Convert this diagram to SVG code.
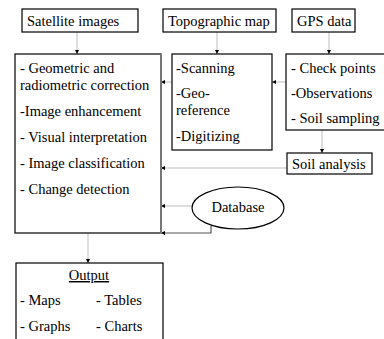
<svg xmlns="http://www.w3.org/2000/svg" width="384" height="339" viewBox="0 0 384 339">
<defs>
<marker id="ah" markerWidth="4" markerHeight="4" refX="4" refY="2" orient="auto" markerUnits="userSpaceOnUse">
<path d="M0,0 L4,2 L0,4 Z" fill="#000"/>
</marker>
<style>
.box{fill:#fff;stroke:#000;stroke-width:1.2}
.c{fill:none;stroke:#bdbdbd;stroke-width:1;marker-end:url(#ah)}
.cd{fill:none;stroke:#555;stroke-width:1.2;marker-end:url(#ah)}
</style>
</defs>
<rect width="384" height="339" fill="#fff"/>
<g id="connectors">
<path class="c" d="M77,32 V54"/>
<path class="c" d="M217,32 V54"/>
<path class="c" d="M329,32 V54"/>
<path class="c" d="M286,82 H272"/>
<path class="c" d="M172,82 H161"/>
<path class="c" d="M322,130 V153"/>
<path class="c" d="M287,168 H161"/>
<path class="c" d="M192,206 H161"/>
<path class="cd" d="M211,226 V233 H161"/>
<path class="c" d="M88,233 V263"/>
</g>
<g font-family="'Liberation Serif'" font-size="14.5" fill="#000">
<g id="satellite">
<rect class="box" x="22" y="9" width="116" height="23"/>
<text x="27" y="26">Satellite images</text>
</g>
<g id="topographic">
<rect class="box" x="163" y="9" width="113" height="23"/>
<text x="168" y="26">Topographic map</text>
</g>
<g id="gps">
<rect class="box" x="292" y="9" width="63" height="23"/>
<text x="297" y="26">GPS data</text>
</g>
<g id="processing">
<rect class="box" x="15" y="54" width="146" height="179"/>
<line x1="161" y1="54" x2="161" y2="234" stroke="#777" stroke-width="2"/>
<text x="20" y="73">- Geometric and</text>
<text x="20" y="90">radiometric correction</text>
<text x="20" y="116">-Image enhancement</text>
<text x="20" y="142">- Visual interpretation</text>
<text x="20" y="168">- Image classification</text>
<text x="20" y="194">- Change detection</text>
</g>
<g id="topo-steps">
<rect class="box" x="172" y="54" width="100" height="96"/>
<text x="176" y="73">-Scanning</text>
<text x="176" y="98">-Geo-</text>
<text x="176" y="115">reference</text>
<text x="176" y="141">-Digitizing</text>
</g>
<g id="gps-steps">
<rect class="box" x="286" y="54" width="104" height="76"/>
<text x="291" y="73">- Check points</text>
<text x="291" y="98">-Observations</text>
<text x="291" y="123">- Soil sampling</text>
</g>
<g id="soil">
<rect class="box" x="287" y="153" width="85" height="21"/>
<text x="292" y="169">Soil analysis</text>
</g>
<g id="database">
<ellipse class="box" cx="238" cy="208" rx="46" ry="21"/>
<text x="238" y="212" text-anchor="middle">Database</text>
</g>
<g id="output">
<rect class="box" x="16" y="263" width="147" height="80"/>
<text x="89" y="280" text-anchor="middle" text-decoration="underline">Output</text>
<text x="20" y="305">- Maps</text>
<text x="96" y="305">- Tables</text>
<text x="20" y="331">- Graphs</text>
<text x="96" y="331">- Charts</text>
</g>
</g>
</svg>
